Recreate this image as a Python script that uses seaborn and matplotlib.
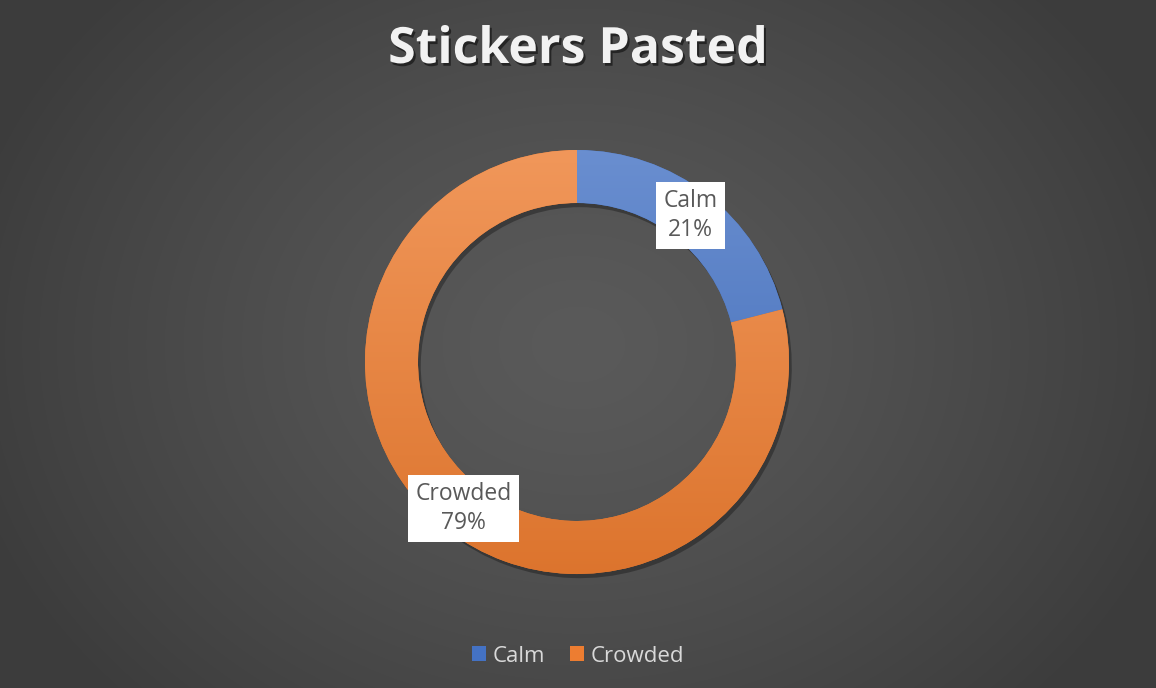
import numpy as np
import matplotlib.pyplot as plt
import matplotlib.patheffects as pe
from matplotlib.patches import Patch
import matplotlib.colors as mcolors
import seaborn as sns

# data
categories = ['Calm', 'Crowded']
shares = [21, 79]
colors = ['#4472C4', '#ED7D31']

sns.set_theme(style='white')
plt.rcParams['font.family'] = ['Open Sans', 'DejaVu Sans']

fig = plt.figure(figsize=(11.56, 6.88), dpi=100)

# radial gradient background
bg = fig.add_axes([0, 0, 1, 1], zorder=0)
yy, xx = np.mgrid[0:688, 0:1156]
d = np.sqrt(((xx - 578) / 640.0) ** 2 + ((yy - 344) / 520.0) ** 2)
d = np.clip(d, 0, 1)
c0, c1 = 0x5a / 255, 0x3c / 255
img = c0 + (c1 - c0) * d ** 1.3
bg.imshow(np.dstack([img, img, img]), aspect='auto', extent=[0, 1, 0, 1])
bg.set_axis_off()

# donut
ax = fig.add_axes([365 / 1156, (688 - 574) / 688, 424 / 1156, 424 / 688], zorder=1)
ax.set_facecolor('none')
wedges, _ = ax.pie(shares, colors=colors, startangle=90, counterclock=False,
                   radius=1, wedgeprops=dict(width=0.25, linewidth=0))
for w, c in zip(wedges, colors):
    w.set_path_effects([pe.SimplePatchShadow(offset=(2, -3), alpha=0.3, shadow_rgbFace='black'),
                        pe.Normal()])
    # vertical shading: lighter at top
    base = np.array(mcolors.to_rgb(c))
    t = np.linspace(0, 1, 256)[:, None]
    top = base + (1 - base) * 0.2
    bot = base * 0.93
    grad = top[None, :] * (1 - t[..., None]) + bot[None, :] * t[..., None]
    grad = np.repeat(grad, 4, axis=1)
    im = ax.imshow(grad, extent=[-1, 1, -1, 1], aspect='auto', zorder=2)
    im.set_clip_path(w)

total = sum(shares)
cum = 0
for cat, val in zip(categories, shares):
    mid = (cum + val / 2) / total * 2 * np.pi
    cum += val
    r = 0.875
    x, y = r * np.sin(mid), r * np.cos(mid)
    ax.text(x, y, f'{cat}\n{val}%', ha='center', va='center', fontsize=16.5,
            color='#595959', linespacing=1.25, zorder=5,
            bbox=dict(boxstyle='square,pad=0.32', fc='white', ec='none'))
ax.set_xlim(-1, 1)
ax.set_ylim(-1, 1)
ax.set_aspect('equal')
ax.set_axis_off()

# title
fig.text(0.5, 1 - 50 / 688, 'Stickers Pasted', ha='center', va='center',
         fontsize=36, fontweight='bold', color='#f2f2f2',
         path_effects=[pe.SimplePatchShadow(offset=(1.5, -2), alpha=0.5, shadow_rgbFace='black'),
                       pe.Normal()])

# legend
handles = [Patch(facecolor=c, edgecolor='none') for c in colors]
fig.legend(handles, categories, loc='center', bbox_to_anchor=(0.5, 1 - 656 / 688),
           ncol=2, frameon=False, fontsize=16, labelcolor='#d9d9d9',
           handlelength=0.65, handleheight=0.65, handletextpad=0.3, columnspacing=1.1)

fig.savefig('out.png', dpi=100)
